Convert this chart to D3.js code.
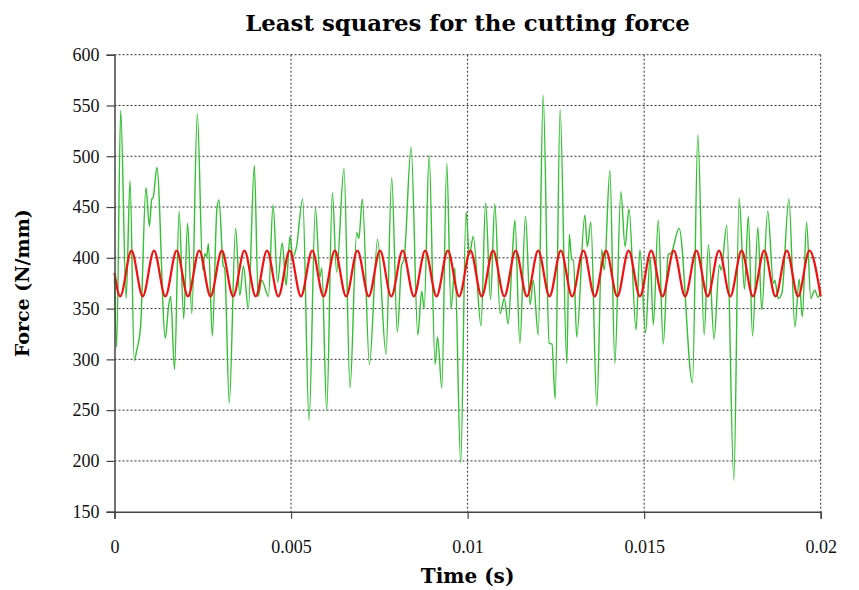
<!DOCTYPE html>
<html>
<head>
<meta charset="utf-8">
<script src="https://cdn.jsdelivr.net/npm/d3@7"></script>
<style>
body { margin: 0; background: #fff; }
</style>
</head>
<body>
<script>
// values: time in ms, force in N/mm
const measured = [
    [0, 380], [0.06, 312], [0.175, 545], [0.33, 360], [0.44, 476], [0.56, 299], [0.63, 309], [0.74, 333],
    [0.89, 469], [0.99, 431], [1.05, 457], [1.1, 460], [1.2, 489], [1.44, 321], [1.53, 352], [1.59, 362],
    [1.7, 290], [1.83, 446], [1.96, 340], [2.07, 434], [2.19, 345], [2.345, 542], [2.5, 388], [2.56, 404],
    [2.61, 401], [2.66, 414], [2.77, 323], [2.9, 448], [2.96, 457], [3.08, 392], [3.12, 390], [3.25, 257],
    [3.43, 429], [3.55, 363], [3.65, 392], [3.79, 350], [3.96, 491], [4.07, 362], [4.17, 378], [4.36, 362],
    [4.49, 452], [4.62, 376], [4.75, 415], [4.86, 373], [4.97, 421], [5.05, 401], [5.15, 410], [5.33, 458],
    [5.51, 240], [5.69, 449], [5.82, 381], [5.87, 390], [6.01, 250], [6.17, 464], [6.29, 386], [6.5, 488],
    [6.67, 272], [6.86, 425], [6.92, 419], [7.02, 458], [7.22, 295], [7.45, 418], [7.69, 305], [7.85, 479],
    [8.01, 327], [8.13, 393], [8.2, 398], [8.4, 509], [8.59, 324], [8.7, 367], [8.77, 350], [8.91, 501],
    [9.08, 295], [9.15, 322], [9.27, 272], [9.41, 493], [9.53, 350], [9.64, 390], [9.805, 198], [9.955, 445],
    [10.05, 403], [10.16, 421], [10.38, 333], [10.51, 454], [10.65, 359], [10.77, 453], [10.92, 345], [11.04, 360],
    [11.15, 335], [11.27, 405], [11.34, 437], [11.48, 316], [11.64, 441], [11.77, 354], [11.86, 378], [12.0, 324],
    [12.14, 560], [12.31, 316], [12.39, 315], [12.48, 261], [12.62, 546], [12.81, 296], [12.88, 423], [12.95, 398],
    [13.0, 398], [13.09, 322], [13.32, 442], [13.39, 411], [13.49, 435], [13.66, 254], [13.8, 408], [13.87, 388],
    [14.03, 486], [14.17, 296], [14.34, 465], [14.46, 411], [14.57, 448], [14.77, 329], [14.88, 408], [15.04, 326],
    [15.17, 401], [15.26, 334], [15.4, 437], [15.54, 315], [15.68, 403], [15.77, 405], [15.99, 429], [16.37, 277],
    [16.52, 521], [16.7, 324], [16.82, 413], [16.98, 320], [17.13, 393], [17.18, 388], [17.34, 432], [17.54, 181],
    [17.69, 459], [17.84, 369], [17.95, 441], [18.07, 323], [18.22, 430], [18.33, 349], [18.5, 446], [18.66, 375],
    [18.7, 378], [18.8, 360], [18.9, 365], [19.1, 458], [19.27, 332], [19.39, 379], [19.48, 342], [19.6, 435],
    [19.72, 360], [19.83, 368], [19.93, 361], [20, 369]
];

// least squares fit, peaks and troughs
const fit = [
    [0, 385], [0.16, 362], [0.48, 407], [0.80, 362], [1.12, 407], [1.44, 362], [1.76, 407], [2.08, 362],
    [2.40, 407], [2.72, 362], [3.04, 407], [3.36, 362], [3.68, 407], [4.00, 362], [4.32, 407], [4.64, 362],
    [4.96, 407], [5.28, 362], [5.60, 407], [5.92, 362], [6.24, 407], [6.56, 362], [6.88, 407], [7.20, 362],
    [7.52, 407], [7.84, 362], [8.16, 407], [8.48, 362], [8.80, 407], [9.12, 362], [9.44, 407], [9.76, 362],
    [10.08, 407], [10.40, 362], [10.72, 407], [11.04, 362], [11.36, 407], [11.68, 362], [12.00, 407], [12.32, 362],
    [12.64, 407], [12.96, 362], [13.28, 407], [13.60, 362], [13.92, 407], [14.24, 362], [14.56, 407], [14.88, 362],
    [15.20, 407], [15.52, 362], [15.84, 407], [16.16, 362], [16.48, 407], [16.80, 362], [17.12, 407], [17.44, 362],
    [17.76, 407], [18.08, 362], [18.40, 407], [18.72, 362], [19.04, 407], [19.36, 362], [19.68, 407], [20.00, 362]
];

const xTicks = [0, 0.005, 0.01, 0.015, 0.02];
const yTicks = [150, 200, 250, 300, 350, 400, 450, 500, 550, 600];

const width = 859, height = 590;
const margin = { left: 114.5, right: 38.3, top: 54.7, bottom: 78.3 };
const innerW = width - margin.left - margin.right;
const innerH = height - margin.top - margin.bottom;

const svg = d3.select('body').append('svg')
    .attr('width', width)
    .attr('height', height);

const x = d3.scaleLinear().domain([0, 0.02]).range([0, innerW]);
const y = d3.scaleLinear().domain([150, 600]).range([innerH, 0]);

const g = svg.append('g')
    .attr('transform', `translate(${margin.left},${margin.top})`);

// dotted grid
g.append('g').selectAll('line')
    .data(yTicks.slice(1))
    .join('line')
    .attr('x1', 0).attr('x2', innerW)
    .attr('y1', d => y(d)).attr('y2', d => y(d))
    .attr('stroke', '#333').attr('stroke-width', 1)
    .attr('stroke-dasharray', '2,2');

g.append('g').selectAll('line')
    .data(xTicks.slice(1))
    .join('line')
    .attr('x1', d => x(d)).attr('x2', d => x(d))
    .attr('y1', 0).attr('y2', innerH)
    .attr('stroke', '#333').attr('stroke-width', 1)
    .attr('stroke-dasharray', '2,2');

const lineOf = d3.line()
    .x(d => x(d[0] / 1000))
    .y(d => y(d[1]))
    .curve(d3.curveMonotoneX);

g.append('path')
    .datum(measured)
    .attr('fill', 'none')
    .attr('stroke', '#33c033')
    .attr('stroke-width', 1.4)
    .attr('d', lineOf);

g.append('path')
    .datum(fit)
    .attr('fill', 'none')
    .attr('stroke', '#f21010')
    .attr('stroke-width', 2.2)
    .attr('d', lineOf);

const xAxis = d3.axisBottom(x)
    .tickValues(xTicks)
    .tickFormat(d => String(d))
    .tickSize(7)
    .tickPadding(22);

const yAxis = d3.axisLeft(y)
    .tickValues(yTicks)
    .tickFormat(d => String(d))
    .tickSize(8)
    .tickPadding(7);

const xAxisGroup = g.append('g')
    .attr('transform', `translate(0,${innerH})`)
    .call(xAxis);
const yAxisGroup = g.append('g').call(yAxis);

[xAxisGroup, yAxisGroup].forEach(a => {
    a.select('.domain').attr('stroke', '#444').attr('stroke-width', 1.5);
    a.selectAll('.tick line').attr('stroke', '#444').attr('stroke-width', 1.2);
    a.selectAll('.tick text')
        .attr('fill', '#111')
        .style('font-family', '"Liberation Serif", serif')
        .style('font-size', '18px');
});

svg.append('text')
    .attr('x', margin.left + innerW / 2)
    .attr('y', 31)
    .attr('text-anchor', 'middle')
    .style('font-family', '"DejaVu Serif", serif')
    .style('font-weight', 'bold')
    .style('font-size', '22.8px')
    .text('Least squares for the cutting force');

svg.append('text')
    .attr('x', margin.left + innerW / 2)
    .attr('y', 583)
    .attr('text-anchor', 'middle')
    .style('font-family', '"DejaVu Serif", serif')
    .style('font-weight', 'bold')
    .style('font-size', '20px')
    .text('Time (s)');

svg.append('text')
    .attr('transform', `translate(29,${margin.top + innerH / 2}) rotate(-90)`)
    .attr('text-anchor', 'middle')
    .style('font-family', '"DejaVu Serif", serif')
    .style('font-weight', 'bold')
    .style('font-size', '19px')
    .text('Force (N/mm)');
</script>
</body>
</html>
